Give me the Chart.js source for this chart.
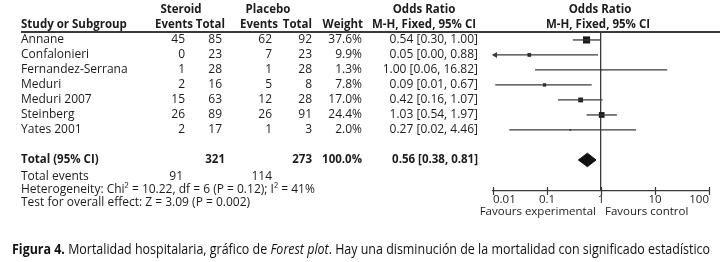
<!DOCTYPE html>
<html>
<head>
<meta charset="utf-8">
<script src="https://cdn.jsdelivr.net/npm/chart.js@4/dist/chart.umd.min.js"></script>
<style>
  html, body { margin: 0; padding: 0; background: #fff; }
  #wrap { width: 721px; height: 262px; }
</style>
</head>
<body>
<div id="wrap"><canvas id="forest" width="721" height="262"></canvas></div>
<script>
const studies = ['Annane', 'Confalonieri', 'Fernandez-Serrana', 'Meduri', 'Meduri 2007', 'Steinberg', 'Yates 2001'];
const steroidEvents = [45, 0, 1, 2, 15, 26, 2];
const steroidTotal = [85, 23, 28, 16, 63, 89, 17];
const placeboEvents = [62, 7, 1, 5, 12, 26, 1];
const placeboTotal = [92, 23, 28, 8, 28, 91, 3];
const weights = [37.6, 9.9, 1.3, 7.8, 17.0, 24.4, 2.0];
const oddsRatio = [0.54, 0.047, 1.00, 0.09, 0.42, 1.03, 0.27];
const ciLow = [0.30, 0.0025, 0.06, 0.011, 0.16, 0.54, 0.02];
const ciHigh = [1.00, 0.88, 16.82, 0.67, 1.07, 1.97, 4.46];

const totalSteroid = 321;
const totalPlacebo = 273;
const totalWeight = 100.0;
const pooled = { or: 0.56, lo: 0.38, hi: 0.81 };
const totalEvents = [91, 114];
const heterogeneity = 'Heterogeneity: Chi² = 10.22, df = 6 (P = 0.12); I² = 41%';
const overallEffect = 'Test for overall effect: Z = 3.09 (P = 0.002)';

const tickValues = [0.01, 0.1, 1, 10, 100];
const tickLabels = ['0.01', '0.1', '1', '10', '100'];

const TOTAL_ROW = 8;
const FONT = '"Open Sans", sans-serif';
const INK = '#1c1c1c';
const LINE = '#3a3a3a';

const fmtCI = i => `${oddsRatio[i].toFixed(2)} [${ciLow[i].toFixed(2)}, ${ciHigh[i].toFixed(2)}]`;

// one line dataset per study for the confidence interval
const ciSets = studies.map((s, i) => ({
  type: 'line',
  data: [{ x: ciLow[i], y: i }, { x: ciHigh[i], y: i }],
  borderColor: LINE,
  borderWidth: 1.3,
  pointRadius: 0
}));

const pointSet = {
  type: 'scatter',
  data: studies.map((s, i) => ({ x: oddsRatio[i], y: i })),
  pointStyle: 'rect',
  pointRadius: c => 0.82 * Math.sqrt(weights[c.dataIndex]),
  backgroundColor: '#1a1a1a',
  borderWidth: 0
};

const diamondSet = {
  type: 'line',
  data: [
    { x: pooled.lo, y: TOTAL_ROW },
    { x: pooled.or, y: TOTAL_ROW - 0.45 },
    { x: pooled.hi, y: TOTAL_ROW },
    { x: pooled.or, y: TOTAL_ROW + 0.45 },
    { x: pooled.lo, y: TOTAL_ROW }
  ],
  borderColor: '#111',
  borderWidth: 1,
  backgroundColor: '#111',
  fill: 'shape',
  pointRadius: 0
};

function txt(ctx, s, x, y, align, bold, size) {
  ctx.font = bold ? `bold ${size || 11.5}px ${FONT}` : `${size || 12}px ${FONT}`;
  ctx.textAlign = align;
  ctx.textBaseline = 'middle';
  ctx.fillStyle = INK;
  ctx.fillText(s, x, y);
}

const tablePlugin = {
  id: 'table',
  afterDatasetsDraw(chart) {
    const { ctx, scales: { x, y }, chartArea } = chart;
    ctx.save();
    ctx.fillStyle = LINE;
    // arrows where the interval runs off the scale
    ciLow.forEach((lo, i) => {
      if (lo < x.min) {
        const py = y.getPixelForValue(i);
        const px = chartArea.left;
        ctx.beginPath();
        ctx.moveTo(px - 1, py);
        ctx.lineTo(px + 4, py - 3);
        ctx.lineTo(px + 4, py + 3);
        ctx.closePath();
        ctx.fill();
      }
    });
    // tick marks crossing the axis
    ctx.strokeStyle = LINE;
    ctx.lineWidth = 1.2;
    tickValues.forEach(v => {
      const px = Math.round(x.getPixelForValue(v)) + 0.5;
      ctx.beginPath();
      ctx.moveTo(px, chartArea.bottom - 4);
      ctx.lineTo(px, chartArea.bottom + 4);
      ctx.stroke();
    });
    ctx.restore();
  },
  afterDraw(chart) {
    const { ctx, scales: { x, y } } = chart;
    const one = x.getPixelForValue(1);
    ctx.save();

    const h1 = y.getPixelForValue(-2);
    const h2 = y.getPixelForValue(-1);
    txt(ctx, 'Steroid', 181, h1, 'center', true);
    txt(ctx, 'Placebo', 268, h1, 'center', true);
    txt(ctx, 'Odds Ratio', 424, h1, 'center', true);
    txt(ctx, 'Odds Ratio', one - 1, h1, 'center', true);
    txt(ctx, 'Study or Subgroup', 21, h2, 'left', true);
    txt(ctx, 'Events', 193, h2, 'right', true);
    txt(ctx, 'Total', 225, h2, 'right', true);
    txt(ctx, 'Events', 278, h2, 'right', true);
    txt(ctx, 'Total', 312, h2, 'right', true);
    txt(ctx, 'Weight', 363, h2, 'right', true);
    txt(ctx, 'M-H, Fixed, 95% CI', 424, h2, 'center', true);
    txt(ctx, 'M-H, Fixed, 95% CI', one - 3, h2, 'center', true);

    ctx.fillStyle = LINE;
    ctx.fillRect(21, 31, 699, 2);

    studies.forEach((s, i) => {
      const py = y.getPixelForValue(i);
      txt(ctx, s, 21, py, 'left');
      txt(ctx, String(steroidEvents[i]), 185, py, 'right');
      txt(ctx, String(steroidTotal[i]), 222, py, 'right');
      txt(ctx, String(placeboEvents[i]), 272, py, 'right');
      txt(ctx, String(placeboTotal[i]), 312, py, 'right');
      txt(ctx, weights[i].toFixed(1) + '%', 362, py, 'right');
      txt(ctx, fmtCI(i), 478, py, 'right');
    });

    const ty = y.getPixelForValue(TOTAL_ROW);
    txt(ctx, 'Total (95% CI)', 21, ty, 'left', true);
    txt(ctx, String(totalSteroid), 225, ty, 'right', true);
    txt(ctx, String(totalPlacebo), 312, ty, 'right', true);
    txt(ctx, totalWeight.toFixed(1) + '%', 362, ty, 'right', true);
    txt(ctx, `${pooled.or.toFixed(2)} [${pooled.lo.toFixed(2)}, ${pooled.hi.toFixed(2)}]`, 478, ty, 'right', true);

    txt(ctx, 'Total events', 21, ty + 17, 'left');
    txt(ctx, String(totalEvents[0]), 183, ty + 17, 'right');
    txt(ctx, String(totalEvents[1]), 272, ty + 17, 'right');
    txt(ctx, heterogeneity, 21, ty + 30, 'left');
    txt(ctx, overallEffect, 21, ty + 43, 'left');

    txt(ctx, 'Favours experimental', one - 5, 212, 'right', false, 11.5);
    txt(ctx, 'Favours control', one + 4, 212, 'left', false, 11.5);

    // caption, condensed to the page width
    const parts = [
      { s: 'Figura 4.', f: `bold 14px ${FONT}` },
      { s: ' Mortalidad hospitalaria, gráfico de ', f: `14px ${FONT}` },
      { s: 'Forest plot', f: `italic 14px ${FONT}` },
      { s: '. Hay una disminución de la mortalidad con significado estadístico', f: `14px ${FONT}` }
    ];
    let full = 0;
    parts.forEach(p => { ctx.font = p.f; full += ctx.measureText(p.s).width; });
    const sx = (710 - 12) / full;
    ctx.translate(12, 254);
    ctx.scale(sx, 1);
    ctx.textAlign = 'left';
    ctx.textBaseline = 'alphabetic';
    ctx.fillStyle = '#111';
    let cx = 0;
    parts.forEach(p => {
      ctx.font = p.f;
      ctx.fillText(p.s, cx, 0);
      cx += ctx.measureText(p.s).width;
    });
    ctx.restore();
  }
};

new Chart(document.getElementById('forest'), {
  type: 'scatter',
  data: { datasets: [...ciSets, pointSet, diamondSet] },
  options: {
    responsive: false,
    animation: false,
    devicePixelRatio: 1,
    layout: { padding: { left: 493, right: 12, top: 32, bottom: 41 } },
    plugins: { legend: { display: false }, tooltip: { enabled: false } },
    scales: {
      x: {
        type: 'logarithmic',
        min: 0.01,
        max: 100,
        afterBuildTicks: s => { s.ticks = tickValues.map(v => ({ value: v })); },
        afterFit: s => { s.height = 30; },
        border: { display: true, color: LINE, width: 1.2 },
        grid: {
          drawTicks: false,
          color: c => (c.tick && c.tick.value === 1 ? LINE : 'rgba(0,0,0,0)'),
          lineWidth: 1.3
        },
        ticks: {
          autoSkip: false,
          maxRotation: 0,
          align: 'inner',
          padding: 2,
          color: INK,
          font: { family: FONT, size: 11.5 },
          callback: (v, i) => tickLabels[i]
        }
      },
      y: {
        type: 'linear',
        reverse: true,
        min: -0.53,
        max: 10.07,
        display: false
      }
    }
  },
  plugins: [tablePlugin]
});
</script>
</body>
</html>
